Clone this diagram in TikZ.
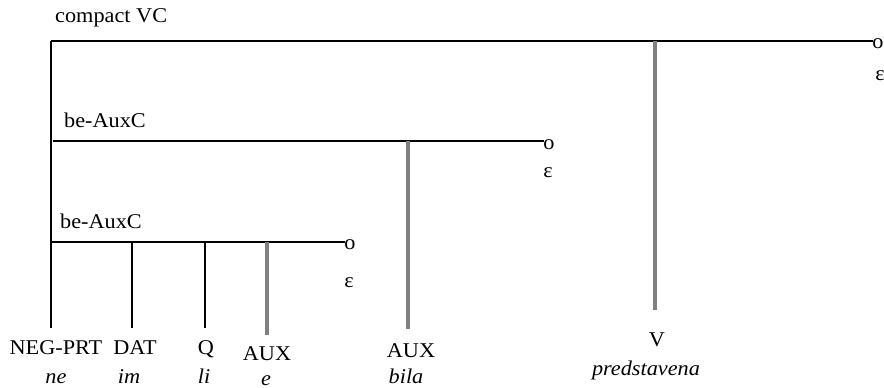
\documentclass[tikz,border=0pt]{standalone}
\usepackage{fontspec}
\setmainfont[FakeStretch=1.06]{Liberation Serif}
\begin{document}
\begin{tikzpicture}[x=1pt,y=-1pt,
  lbl/.style={font=\fontsize{21}{25}\selectfont, inner sep=0pt, anchor=base},
  wrd/.style={font=\fontsize{21}{25}\selectfont\itshape, inner sep=0pt, anchor=base},
  tline/.style={line width=1.2pt, black},
  hd/.style={line width=4.7pt, color={rgb,255:red,128;green,128;blue,128}}]
\useasboundingbox (0,0) rectangle (884,388);
% constituent labels
\node[lbl, anchor=base west] (vc) at (55,22) {compact VC};
\node[lbl, anchor=base west] (ac2) at (64,127) {be-AuxC};
\node[lbl, anchor=base west] (ac1) at (60,228) {be-AuxC};
% empty ends
\node[lbl] (o1) at (878,48) {o};
\node[lbl] (e1) at (880,80) {ε};
\node[lbl] (o2) at (549,149) {o};
\node[lbl] (e2) at (548,177) {ε};
\node[lbl] (o3) at (350,249) {o};
\node[lbl] (e3) at (349,287) {ε};
% category labels
\node[lbl] (neg) at (56,354) {NEG-PRT};
\node[lbl] (dat) at (135,354) {DAT};
\node[lbl] (q) at (206,354) {Q};
\node[lbl] (aux1) at (267,360) {AUX};
\node[lbl] (aux2) at (411,357) {AUX};
\node[lbl] (v) at (657,346) {V};
% words
\node[wrd] (wne) at (56,383) {ne};
\node[wrd] (wim) at (129,383) {im};
\node[wrd] (wli) at (204,383) {li};
\node[wrd] (we) at (266,385) {e};
\node[wrd] (wbila) at (406,383) {bila};
\node[wrd] (wpred) at (646,375) {predstavena};
% coordinates
\coordinate (t0) at (51,41);
\coordinate (t1) at (873,41);
\coordinate (tv) at (655,41);
\coordinate (m0) at (53,141);
\coordinate (m1) at (544,141);
\coordinate (mv) at (408,141);
\coordinate (b0) at (51,242);
\coordinate (b1) at (345,242);
\coordinate (bdat) at (132,242);
\coordinate (bq) at (205,242);
\coordinate (baux) at (267,242);
\coordinate (negend) at (51,328);
\coordinate (datend) at (132,328);
\coordinate (qend) at (205,328);
\coordinate (aux1end) at (267,335);
\coordinate (aux2end) at (408,329);
\coordinate (vend) at (655,310);
% horizontal lines
\draw[tline] (t0) -- (t1);
\draw[tline] (m0) -- (m1);
\draw[tline] (b0) -- (b1);
% vertical lines
\draw[tline] (t0) -- (negend);
\draw[tline] (bdat) -- (datend);
\draw[tline] (bq) -- (qend);
\draw[hd] (baux) -- (aux1end);
\draw[hd] (mv) -- (aux2end);
\draw[hd] (tv) -- (vend);
\end{tikzpicture}
\end{document}
